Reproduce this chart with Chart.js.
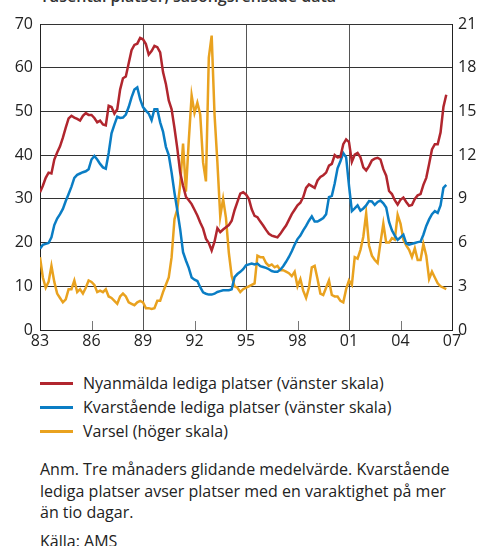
<!DOCTYPE html>
<html><head><meta charset="utf-8">
<script src="https://cdn.jsdelivr.net/npm/chart.js@4.4.1/dist/chart.umd.min.js"></script>
<style>
html,body{margin:0;padding:0;background:#fff;}
#wrap{position:relative;width:478px;height:546px;overflow:hidden;font-family:"Open Sans",sans-serif;color:#222;}
#title{position:absolute;left:40px;top:-11px;font-size:16px;line-height:15px;font-weight:600;white-space:nowrap;color:#333;}
#c{position:absolute;left:0;top:0;}
#legend{position:absolute;left:40px;top:371px;font-size:16px;}
.item{display:flex;align-items:center;height:24px;white-space:nowrap;}
.sw{width:33px;height:3px;margin-right:10px;}
#note{position:absolute;left:40px;top:459px;width:412px;font-size:16px;line-height:21.5px;}
#source{position:absolute;left:40px;top:531px;font-size:16px;line-height:21.5px;}
</style></head>
<body>
<div id="wrap">
<div id="title">Tusental platser, säsongsrensade data</div>
<canvas id="c" width="478" height="360"></canvas>
<div id="legend"></div>
<div id="note">Anm. Tre månaders glidande medelvärde. Kvarstående lediga platser avser platser med en varaktighet på mer än tio dagar.</div>
<div id="source">Källa: AMS</div>
</div>
<script>
// Time grid: bimonthly observations starting 1983
const START_YEAR = 1983;
const PER_YEAR = 6;

const seriesNames = [
  'Nyanmälda lediga platser (vänster skala)',
  'Kvarstående lediga platser (vänster skala)',
  'Varsel (höger skala)'
];
const seriesColors = ['#B1262E', '#0A7DC4', '#E9A21F'];

// Nyanmälda lediga platser, tusental (left scale)
const nyanmalda = [
  31.5,33,34.8,36,35.8,39,40.6,42,44,46.3,48.4,49,48.6,48.3,47.9,49,49.6,49.2,49.2,48.5,
  47.5,47.9,47,46.8,51.3,51,49.5,50.5,55,57.6,58,61,64,65.2,65.5,66.8,66.5,
  65.4,63,63.8,65,64.7,63.5,59,56.3,52.5,50.5,46.2,41.5,36,33,30.5,29.7,28.8,27.5,26.2,24.6,
  23.2,20.9,19.9,18.2,20.2,23.3,22.4,23,23.5,24,25,27.4,29.3,31.2,31.5,31,
  30,27.6,26.1,25.8,24.8,23.9,22.9,22,21.6,21.4,21.2,22,23,23.9,25.2,26.5,27.5,28.5,29.1,30.4,
  32.5,33.3,32.9,32.5,34.2,35,35.4,36,37.6,38,40,39.5,39.6,42.5,43.6,43,
  38.5,40.1,40.5,39.5,37.2,36.5,37.5,38.8,39.2,39.4,39,36.8,35.3,31.8,31.1,29.7,28.7,29.8,30.3,29.3,
  28.4,28.6,30,30.8,31.1,33.2,34.8,38,41.3,42.5,42.5,45.2,51,53.8
];

// Kvarstående lediga platser, tusental (left scale)
const kvarstaende = [
  18.6,19.5,19.7,19.9,21.2,24,25.5,26.5,27.7,29.5,31.1,32.8,34.8,35.5,35.8,36.1,36.3,36.8,39,39.8,
  39,38,37.2,36.9,40.5,45,47,48.8,48.5,48.6,49.3,51,53.2,55,55.5,52.8,51,
  50.2,49.5,48,50.5,50.5,47.5,45.4,41.9,40,36,31.4,27.3,23,17.8,15.9,14.2,12,11.5,11.2,9.8,
  8.6,8.3,8.1,8.1,8.3,8.7,8.9,9.1,9.1,9.1,9.3,12.1,12.8,13.3,13.9,14.8,
  15,15.2,15,15.2,14.6,14.4,14.2,13.9,13.5,13.3,13.3,13.8,14.6,15.6,16.7,18,19.5,20.8,21.6,22.8,
  23.8,25,26,24.8,24.8,25.2,25.6,26.5,30.4,30.7,33.5,37,38.6,40.5,39.5,33,
  27.2,27.8,28.5,27.3,27.8,28.5,29.5,29.4,28.6,29.3,29.6,29,28,24.7,22.8,21.6,20.6,21.2,21.8,19.8,
  19.5,19.7,19.9,20.1,20.2,21.8,23.8,25.3,26.5,27.2,26.8,28.5,32.5,33.2
];

// Varsel, tusental (right scale)
const varsel = [
  5.0,3.6,2.9,3.3,4.4,3.3,2.5,2.2,1.9,2.1,2.8,2.8,3.4,2.6,2.8,2.5,2.9,3.4,3.3,3.1,
  2.6,2.7,2.6,2.8,2.3,2.2,2.0,1.8,2.3,2.5,2.3,1.9,1.8,1.7,1.9,2.0,1.9,
  1.5,1.5,1.45,1.5,2.0,2.0,2.6,3.1,3.6,5.0,7.6,8.3,10.0,12.8,9.5,13.0,16.1,14.9,15.6,14.8,
  11.5,10.2,18.7,20.2,14.8,11.5,7.8,9.0,7.7,5.3,3.7,3.0,2.9,2.6,2.8,2.9,
  3.0,3.1,3.2,5.1,5.0,5.0,4.6,4.4,4.5,4.3,4.4,4.1,4.1,4.0,3.9,3.7,4.0,3.0,3.5,2.7,
  2.2,2.9,4.3,4.4,3.5,2.5,2.4,2.9,3.4,2.4,2.3,2.3,2.0,1.9,2.8,3.4,
  3.1,5.0,4.9,5.5,6.4,8.0,5.8,5.1,4.8,4.6,6.0,7.3,6.0,6.0,6.3,6.2,7.9,7.3,6.2,5.8,
  5.5,5.0,5.6,4.8,4.8,5.9,5.1,3.5,4.0,3.6,3.2,3.0,2.9,2.8,2.7
];

const X_MIN = 1983, X_MAX = 2007, X_STEP = 3;
const LEFT_MAX = 70, LEFT_STEP = 10;
const RIGHT_MAX = 21, RIGHT_STEP = 3;

const dates = nyanmalda.map((_, i) => START_YEAR + i / PER_YEAR);
const toPoints = arr => arr.map((v, i) => ({ x: dates[i], y: v }));

// legend
const legendEl = document.getElementById('legend');
seriesNames.forEach((n, i) => {
  const d = document.createElement('div'); d.className = 'item';
  const s = document.createElement('span'); s.className = 'sw'; s.style.background = seriesColors[i];
  const t = document.createElement('span'); t.textContent = n;
  d.appendChild(s); d.appendChild(t); legendEl.appendChild(d);
});

const innerTicks = {
  id: 'innerTicks',
  beforeDatasetsDraw(chart) {
    const xs = chart.scales.x, ctx = chart.ctx, b = chart.chartArea.bottom;
    ctx.save();
    ctx.strokeStyle = '#777'; ctx.lineWidth = 1;
    xs.ticks.forEach(t => {
      if (((t.value - X_MIN) % 6) === 3) {
        const px = Math.round(xs.getPixelForValue(t.value)) + 0.5;
        ctx.beginPath(); ctx.moveTo(px, b); ctx.lineTo(px, b - 9); ctx.stroke();
      }
    });
    ctx.restore();
  }
};

const tickFont = { family: '"Open Sans", sans-serif', size: 16 };

new Chart(document.getElementById('c'), {
  type: 'line',
  data: {
    datasets: [
      { label: seriesNames[0], data: toPoints(nyanmalda), borderColor: seriesColors[0], yAxisID: 'y' },
      { label: seriesNames[1], data: toPoints(kvarstaende), borderColor: seriesColors[1], yAxisID: 'y' },
      { label: seriesNames[2], data: toPoints(varsel), borderColor: seriesColors[2], yAxisID: 'y1' }
    ].map(d => Object.assign(d, { borderWidth: 2.5, pointRadius: 0, tension: 0, fill: false }))
  },
  options: {
    responsive: false, animation: false, devicePixelRatio: 1,
    layout: { padding: { top: 24, left: 0, right: 0, bottom: 0 } },
    plugins: { legend: { display: false }, tooltip: { enabled: false } },
    scales: {
      x: {
        type: 'linear', min: X_MIN, max: X_MAX,
        ticks: { stepSize: X_STEP, color: '#222', font: tickFont, padding: 2, maxRotation: 0,
          callback: v => String(v % 100).padStart(2, '0') },
        grid: { drawTicks: false, lineWidth: 1,
          color: c => { const v = c.tick && c.tick.value; return (v > X_MIN && v < X_MAX && ((v - X_MIN) % 6) === 0) ? '#555' : 'rgba(0,0,0,0)'; } },
        border: { display: true, color: '#222', width: 1 },
        afterFit: s => { s.height = 30; }
      },
      y: {
        position: 'left', min: 0, max: LEFT_MAX,
        ticks: { stepSize: LEFT_STEP, color: '#222', font: tickFont, padding: 7 },
        grid: { drawTicks: false, color: '#333', lineWidth: 1 },
        border: { display: true, color: '#222', width: 1 },
        afterFit: s => { s.width = 40; }
      },
      y1: {
        position: 'right', min: 0, max: RIGHT_MAX,
        ticks: { stepSize: RIGHT_STEP, color: '#222', font: tickFont, padding: 6 },
        grid: { display: false, drawTicks: false },
        border: { display: true, color: '#222', width: 1 },
        afterFit: s => { s.width = 26; }
      }
    }
  },
  plugins: [innerTicks]
});
</script>
</body></html>
